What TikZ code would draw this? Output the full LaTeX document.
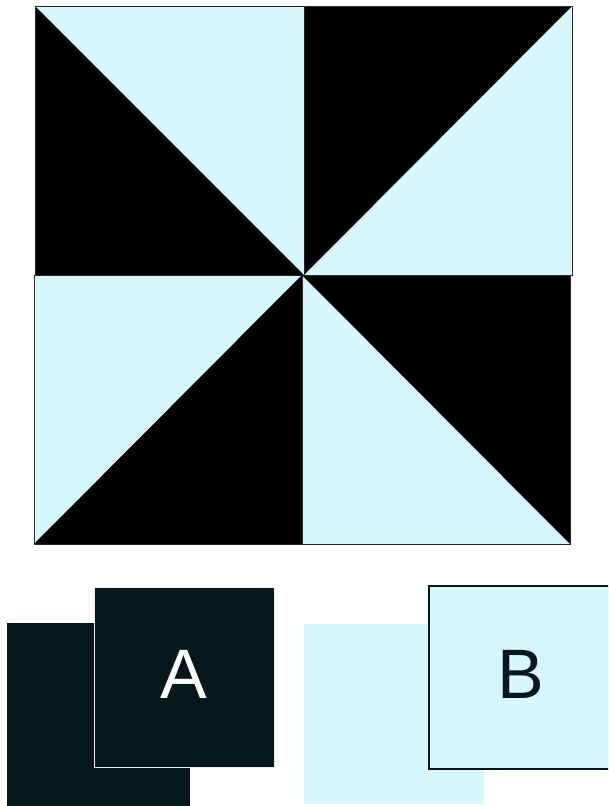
\documentclass[tikz,border=0pt]{standalone}
\usepackage{fontspec}
\setmainfont{Liberation Sans}
\definecolor{lightc}{HTML}{D6F7FC}
\definecolor{darkc}{HTML}{04171B}
\begin{document}
\begin{tikzpicture}[x=1pt,y=-1pt,
  tile/.style={fill=lightc},
  tri/.style={fill=black},
  frame/.style={draw=darkc!80!gray,line width=0.8pt},
  lbl/.style={font=\fontsize{70}{70}\selectfont,inner sep=0pt}]
\useasboundingbox (0,0) rectangle (608,806);
\clip (0,0) rectangle (608,806);
% top-left
\fill[tile] (35,6) rectangle (304,275);
\fill[tri] (35,6) -- (304,275) -- (35,275) -- cycle;
\draw[frame] (35,6) rectangle (304,275);
% top-right
\fill[tile] (304,6) rectangle (572,275);
\fill[tri] (304,6) -- (572,6) -- (304,275) -- cycle;
\draw[frame] (304,6) rectangle (572,275);
% bottom-left
\fill[tile] (34,275) rectangle (302,544);
\fill[tri] (302,275) -- (302,544) -- (34,544) -- cycle;
\draw[frame] (34,275) rectangle (302,544);
% bottom-right
\fill[tile] (302,275) rectangle (570,544);
\fill[tri] (302,275) -- (570,275) -- (570,544) -- cycle;
\draw[frame] (302,275) rectangle (570,544);
% A
\fill[darkc] (7,623) rectangle (190,810);
\draw[fill=darkc,draw=white!85!gray,line width=1pt] (94,587) rectangle (274,767);
\node[lbl,text=white] (A) at (184,674) {A};
% B
\fill[lightc] (304,624) rectangle (484,804);
\draw[fill=lightc,draw=darkc,line width=2pt] (429,586) rectangle (615,769);
\node[lbl,text=darkc] (B) at (521,674) {B};
\end{tikzpicture}
\end{document}
